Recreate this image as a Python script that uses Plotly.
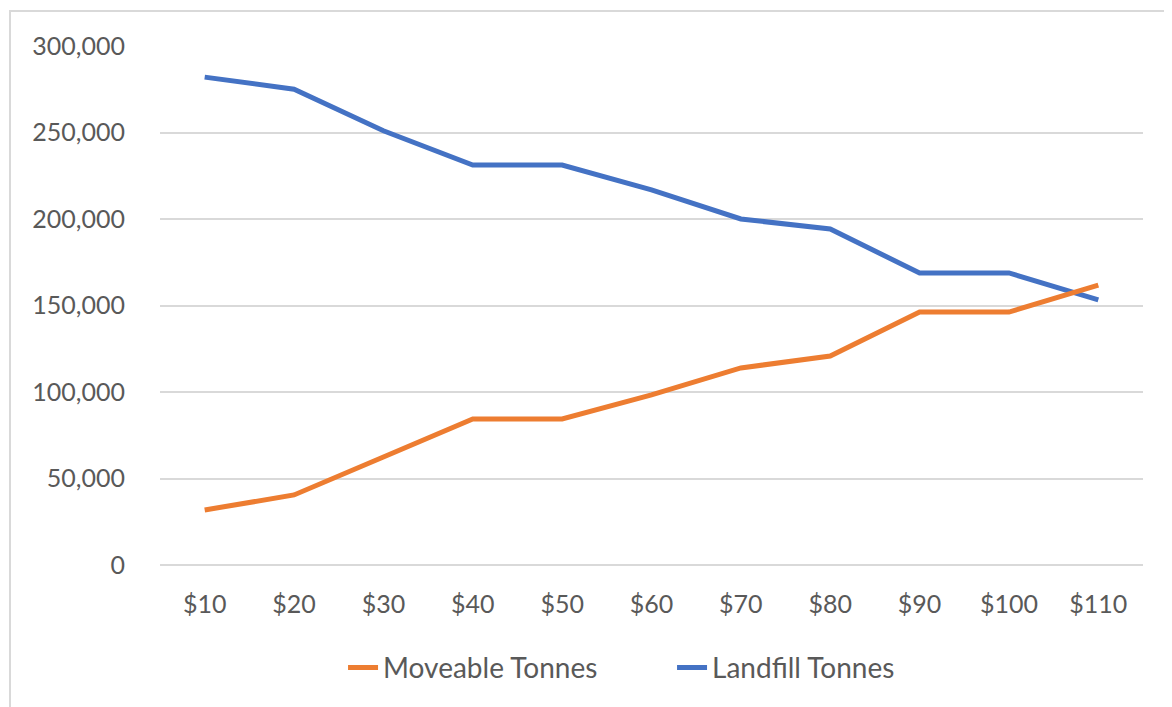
import plotly.graph_objects as go

prices = ["$10", "$20", "$30", "$40", "$50", "$60", "$70", "$80", "$90", "$100", "$110"]
moveable_tonnes = [31800, 40500, 62400, 84400, 84400, 98300, 113900, 120800, 146200, 146200, 161800]
landfill_tonnes = [282000, 275000, 251000, 231200, 231200, 216800, 200000, 194200, 168800, 168800, 153200]
y_ticks = [0, 50000, 100000, 150000, 200000, 250000, 300000]

text_color = "#595959"
font_family = "Lato, 'Open Sans', sans-serif"

fig = go.Figure()
fig.add_trace(go.Scatter(
    x=prices, y=landfill_tonnes, mode="lines", name="Landfill Tonnes",
    line=dict(color="#4472C4", width=5),
))
fig.add_trace(go.Scatter(
    x=prices, y=moveable_tonnes, mode="lines", name="Moveable Tonnes",
    line=dict(color="#ED7D31", width=5),
))

fig.update_layout(
    width=1164, height=699,
    margin=dict(l=152, r=29, t=38, b=142),
    paper_bgcolor="white", plot_bgcolor="white",
    font=dict(family=font_family, color=text_color, size=25),
    showlegend=True,
    legend=dict(
        orientation="h", x=0.5209, xanchor="center", y=-0.198, yanchor="middle",
        traceorder="reversed", font=dict(size=28, color=text_color),
        entrywidth=284, entrywidthmode="pixels",
    ),
    xaxis=dict(
        type="category", range=[-0.5, len(prices) - 0.5],
        showgrid=False, showline=False, zeroline=False,
        ticks="", ticklabelstandoff=22,
        tickfont=dict(size=25, color=text_color),
    ),
    yaxis=dict(
        range=[0, 300000], tickvals=y_ticks, tickformat=",",
        showgrid=True, gridcolor="#d9d9d9", gridwidth=2,
        zeroline=True, zerolinecolor="#d9d9d9", zerolinewidth=2,
        showline=False, ticks="", ticklabelstandoff=34,
        tickfont=dict(size=25, color=text_color),
    ),
    shapes=[dict(
        type="rect", xref="paper", yref="paper",
        x0=-0.1526, x1=1.2, y0=-0.5, y1=1.0674,
        line=dict(color="#d9d9d9", width=2), fillcolor="rgba(0,0,0,0)",
        layer="below",
    )],
)

fig.write_html("out.html")
